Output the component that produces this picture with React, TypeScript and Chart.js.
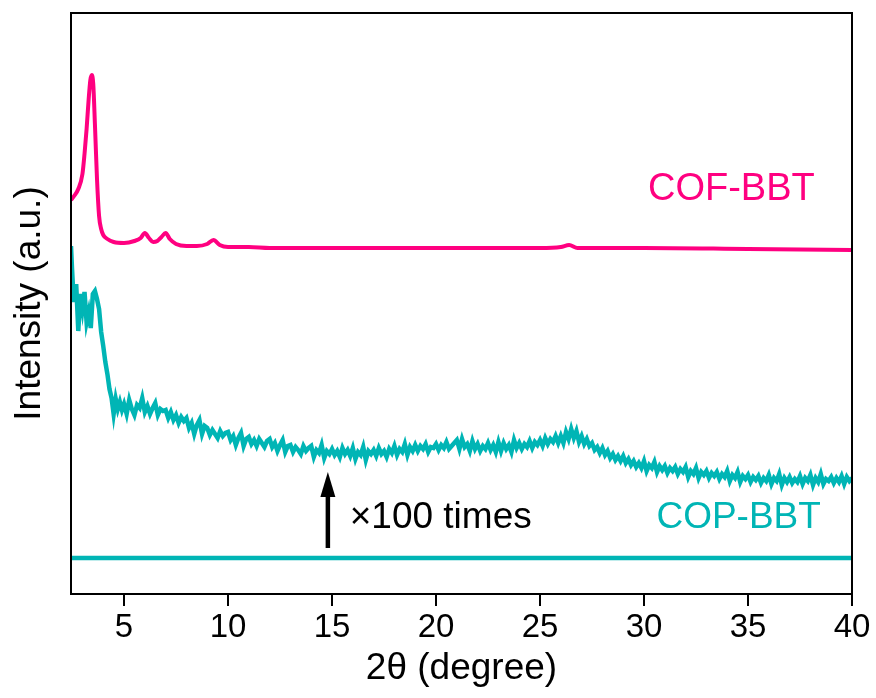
import React, { useEffect, useRef } from 'react';
import { Chart, registerables } from 'chart.js';

Chart.register(...registerables);

// 2θ tick labels
const xTicks = [5, 10, 15, 20, 25, 30, 35, 40];

// COF-BBT (pink) pattern
const cofX = [2.45, 2.6, 2.8, 3.0, 3.1, 3.2, 3.3, 3.38, 3.45, 3.52, 3.6, 3.7, 3.8, 3.9, 4.0, 4.2, 4.5, 5.0, 5.5, 5.8,
  6.0, 6.2, 6.4, 6.6, 6.8, 7.0, 7.2, 7.5, 8.0, 8.5, 9.0, 9.3, 9.6, 10, 11, 12, 13, 15, 20, 25,
  26, 26.4, 26.8, 28, 30, 35, 40];
const cofY = [394, 398, 405, 420, 440, 465, 495, 514, 519, 510, 470, 415, 378, 365, 359, 355, 352, 351, 353, 356,
  361, 356, 352, 353, 357, 361, 355, 350, 348, 348, 350, 354, 349, 347, 347, 346, 346, 346, 346, 346,
  347, 349, 346, 346, 346, 345, 344];

// COP-BBT ×100 (teal, noisy) pattern, low-angle part
const copLowX = [
  2.45, 2.5, 2.55, 2.6, 2.7, 2.8, 2.9, 3.0, 3.1, 3.2,
  3.3, 3.4, 3.5, 3.6, 3.7, 3.8, 3.9, 4.0, 4.1, 4.2,
  4.3, 4.4, 4.5, 4.6, 4.7, 4.8, 4.9,
];
const copLowY = [
  348, 325, 305, 292, 310, 263, 300, 285, 302, 272,
  282, 266, 300, 303, 295, 285, 262, 248, 232, 220,
  205, 196, 180, 195, 185, 192, 184,
];

// COP-BBT ×100 (teal, noisy) pattern, 5°–40°
const copHighX = [
  5, 5.125, 5.25, 5.375, 5.5, 5.625, 5.75, 5.875,
  6, 6.125, 6.25, 6.375, 6.5, 6.625, 6.75, 6.875,
  7, 7.125, 7.25, 7.375, 7.5, 7.625, 7.75, 7.875,
  8, 8.125, 8.25, 8.375, 8.5, 8.625, 8.75, 8.875,
  9, 9.125, 9.25, 9.375, 9.5, 9.625, 9.75, 9.875,
  10, 10.125, 10.25, 10.375, 10.5, 10.625, 10.75, 10.875,
  11, 11.125, 11.25, 11.375, 11.5, 11.625, 11.75, 11.875,
  12, 12.125, 12.25, 12.375, 12.5, 12.625, 12.75, 12.875,
  13, 13.125, 13.25, 13.375, 13.5, 13.625, 13.75, 13.875,
  14, 14.125, 14.25, 14.375, 14.5, 14.625, 14.75, 14.875,
  15, 15.125, 15.25, 15.375, 15.5, 15.625, 15.75, 15.875,
  16, 16.125, 16.25, 16.375, 16.5, 16.625, 16.75, 16.875,
  17, 17.125, 17.25, 17.375, 17.5, 17.625, 17.75, 17.875,
  18, 18.125, 18.25, 18.375, 18.5, 18.625, 18.75, 18.875,
  19, 19.125, 19.25, 19.375, 19.5, 19.625, 19.75, 19.875,
  20, 20.125, 20.25, 20.375, 20.5, 20.625, 20.75, 20.875,
  21, 21.125, 21.25, 21.375, 21.5, 21.625, 21.75, 21.875,
  22, 22.125, 22.25, 22.375, 22.5, 22.625, 22.75, 22.875,
  23, 23.125, 23.25, 23.375, 23.5, 23.625, 23.75, 23.875,
  24, 24.125, 24.25, 24.375, 24.5, 24.625, 24.75, 24.875,
  25, 25.125, 25.25, 25.375, 25.5, 25.625, 25.75, 25.875,
  26, 26.125, 26.25, 26.375, 26.5, 26.625, 26.75, 26.875,
  27, 27.125, 27.25, 27.375, 27.5, 27.625, 27.75, 27.875,
  28, 28.125, 28.25, 28.375, 28.5, 28.625, 28.75, 28.875,
  29, 29.125, 29.25, 29.375, 29.5, 29.625, 29.75, 29.875,
  30, 30.125, 30.25, 30.375, 30.5, 30.625, 30.75, 30.875,
  31, 31.125, 31.25, 31.375, 31.5, 31.625, 31.75, 31.875,
  32, 32.125, 32.25, 32.375, 32.5, 32.625, 32.75, 32.875,
  33, 33.125, 33.25, 33.375, 33.5, 33.625, 33.75, 33.875,
  34, 34.125, 34.25, 34.375, 34.5, 34.625, 34.75, 34.875,
  35, 35.125, 35.25, 35.375, 35.5, 35.625, 35.75, 35.875,
  36, 36.125, 36.25, 36.375, 36.5, 36.625, 36.75, 36.875,
  37, 37.125, 37.25, 37.375, 37.5, 37.625, 37.75, 37.875,
  38, 38.125, 38.25, 38.375, 38.5, 38.625, 38.75, 38.875,
  39, 39.125, 39.25, 39.375, 39.5, 39.625, 39.75, 39.875,
  40,
];
const copHighY = [
  190, 180, 194, 185, 179, 189, 186, 196,
  182, 188, 180, 186, 191, 179, 185, 183,
  184, 176, 182, 174, 179, 171, 177, 173,
  176, 166, 171, 160, 169, 174, 160, 168,
  166, 159, 164, 160, 156, 163, 158, 161,
  162, 154, 158, 149, 156, 161, 148, 155,
  157, 150, 154, 148, 155, 151, 147, 153,
  155, 147, 151, 143, 149, 154, 142, 148,
  149, 142, 147, 144, 140, 148, 143, 146,
  148, 137, 144, 141, 149, 136, 143, 140,
  145, 139, 143, 137, 146, 140, 144, 138,
  146, 135, 142, 139, 147, 134, 143, 140,
  144, 138, 146, 140, 143, 137, 145, 141,
  148, 139, 145, 142, 150, 139, 147, 143,
  149, 143, 148, 145, 150, 142, 147, 146,
  150, 144, 149, 146, 152, 145, 148, 151,
  154, 145, 155, 147, 150, 143, 153, 145,
  150, 143, 148, 145, 151, 144, 149, 142,
  152, 143, 151, 145, 149, 142, 154, 146,
  151, 145, 150, 147, 153, 146, 152, 149,
  154, 148, 156, 150, 155, 152, 158, 151,
  158, 151, 162, 155, 165, 156, 163, 152,
  158, 150, 155, 148, 151, 144, 147, 141,
  146, 139, 143, 136, 140, 134, 138, 133,
  138, 131, 135, 129, 133, 127, 131, 126,
  133, 123, 129, 126, 132, 122, 128, 124,
  128, 121, 126, 123, 127, 120, 125, 122,
  127, 117, 123, 120, 126, 116, 122, 119,
  123, 116, 121, 118, 122, 115, 120, 117,
  123, 113, 119, 116, 122, 112, 118, 115,
  119, 112, 117, 114, 118, 111, 116, 113,
  119, 110, 116, 113, 120, 109, 116, 112,
  117, 111, 115, 112, 118, 110, 116, 113,
  119, 109, 116, 112, 120, 110, 115, 113,
  117, 111, 116, 112, 118, 110, 117, 113,
  116,
];

// COP-BBT raw (teal flat) pattern
const copRawX = [2.45, 40];
const copRawY = [36, 36];

const PINK = '#FF0080';
const TEAL = '#00B5B5';
const FONT = '"Liberation Sans", Arial, sans-serif';

const toPts = (xs: number[], ys: number[]) => xs.map((x, i) => ({ x, y: ys[i] }));

const annotations = {
  id: 'annotations',
  afterDatasetsDraw(chart: any) {
    const { ctx, chartArea, scales } = chart;
    const xs = scales.x;
    const ys = scales.y;
    ctx.save();
    // frame
    ctx.strokeStyle = '#000';
    ctx.lineWidth = 2;
    ctx.strokeRect(chartArea.left, chartArea.top, chartArea.right - chartArea.left, chartArea.bottom - chartArea.top);

    ctx.textBaseline = 'middle';
    ctx.font = `38px ${FONT}`;
    ctx.textAlign = 'center';
    ctx.fillStyle = PINK;
    ctx.fillText('COF-BBT', xs.getPixelForValue(34.2), ys.getPixelForValue(404));
    ctx.fillStyle = TEAL;
    ctx.font = `37px ${FONT}`;
    ctx.fillText('COP-BBT', xs.getPixelForValue(34.55), ys.getPixelForValue(76));

    ctx.fillStyle = '#000';
    ctx.textAlign = 'left';
    ctx.font = `37px ${FONT}`;
    ctx.fillText('×100 times', xs.getPixelForValue(15.85), ys.getPixelForValue(76));

    // arrow
    const ax = xs.getPixelForValue(14.8);
    const yb = ys.getPixelForValue(46);
    const yt = ys.getPixelForValue(122);
    ctx.strokeStyle = '#000';
    ctx.lineWidth = 4.5;
    ctx.beginPath();
    ctx.moveTo(ax, yb);
    ctx.lineTo(ax, yt + 20);
    ctx.stroke();
    ctx.beginPath();
    ctx.moveTo(ax, yt);
    ctx.lineTo(ax - 7.5, yt + 25);
    ctx.lineTo(ax + 7.5, yt + 25);
    ctx.closePath();
    ctx.fill();
    ctx.restore();
  },
};

export default function App() {
  const ref = useRef<HTMLCanvasElement>(null);
  useEffect(() => {
    if (!ref.current) return;
    const chart = new Chart(ref.current, {
      type: 'line',
      data: {
        datasets: [
          {
            label: 'COF-BBT',
            data: toPts(cofX, cofY),
            borderColor: PINK,
            borderWidth: 4,
            pointRadius: 0,
            cubicInterpolationMode: 'monotone',
          },
          {
            label: 'COP-BBT ×100',
            data: toPts(copLowX.concat(copHighX), copLowY.concat(copHighY)),
            borderColor: TEAL,
            borderWidth: 4.5,
            pointRadius: 0,
            tension: 0,
          },
          {
            label: 'COP-BBT',
            data: toPts(copRawX, copRawY),
            borderColor: TEAL,
            borderWidth: 4.5,
            pointRadius: 0,
            tension: 0,
          },
        ],
      },
      options: {
        animation: false,
        responsive: false,
        events: [],
        layout: { padding: { left: 0, top: 13, right: 24, bottom: 0 } },
        plugins: { legend: { display: false }, tooltip: { enabled: false } },
        scales: {
          x: {
            type: 'linear',
            min: 2.45,
            max: 40,
            afterBuildTicks: (s: any) => {
              s.ticks = xTicks.map((v) => ({ value: v }));
            },
            afterFit: (s: any) => {
              s.height = 104;
            },
            border: { display: false },
            grid: { drawOnChartArea: false, drawTicks: true, tickLength: 12, color: '#000', lineWidth: 2 },
            ticks: { color: '#000', font: { family: FONT, size: 33 }, padding: 2, maxRotation: 0 },
            title: {
              display: true,
              text: '2θ (degree)',
              color: '#000',
              font: { family: FONT, size: 37 },
              padding: { top: 0, bottom: 7 },
            },
          },
          y: {
            type: 'linear',
            min: 0,
            max: 581,
            afterFit: (s: any) => {
              s.width = 71;
            },
            border: { display: false },
            grid: { display: false },
            ticks: { display: false },
            title: {
              display: true,
              text: 'Intensity (a.u.)',
              color: '#000',
              font: { family: FONT, size: 37 },
              padding: { top: 8, bottom: 0 },
            },
          },
        },
      },
      plugins: [annotations],
    });
    return () => chart.destroy();
  }, []);
  return (
    <div style={{ position: 'fixed', left: 0, top: 0, width: 876, height: 698, background: '#fff' }}>
      <canvas ref={ref} width={876} height={698} style={{ display: 'block' }} />
    </div>
  );
}
